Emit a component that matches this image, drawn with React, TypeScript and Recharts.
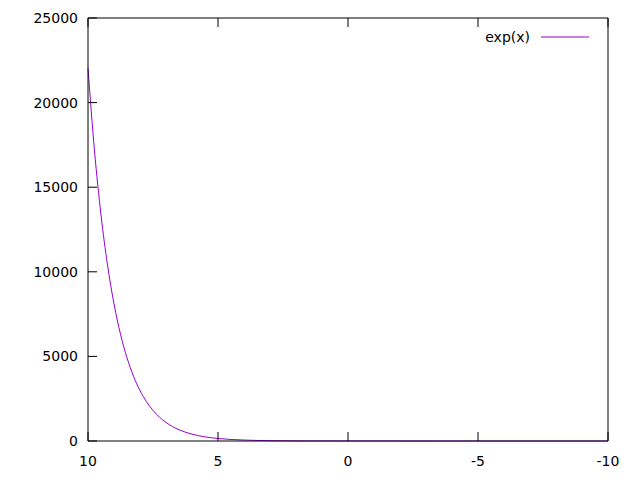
import React from 'react';
import { LineChart, Line, XAxis, YAxis } from 'recharts';

// x samples and the matching y values
const xs = [10, 9.75, 9.5, 9.25, 9, 8.75, 8.5, 8.25, 8, 7.75, 7.5, 7.25, 7, 6.75, 6.5, 6.25, 6, 5.5, 5, 4.5, 4, 3, 2, 1, 0, -5, -10];
const ys = [22026, 17154, 13360, 10405, 8103, 6311, 4915, 3828, 2981, 2322, 1808, 1408, 1097, 854, 665, 518, 403, 245, 148, 90, 55, 20, 7, 3, 1, 0, 0];
const xTicks = [10, 5, 0, -5, -10];
const yTicks = [0, 5000, 10000, 15000, 20000, 25000];
const seriesName = 'exp(x)';

const data = xs.map((x, i) => ({ x, y: ys[i] }));

const FONT = 'DejaVu Sans, sans-serif';
const COLOR = '#9400d3';
const TICK = 9;
const FS = 14;

function BottomTick({ x, y, payload }: any) {
  return (
    <g>
      <line x1={x} y1={y} x2={x} y2={y - TICK} stroke="#000" />
      <text x={x} y={y + 20} textAnchor="middle" dominantBaseline="central" fontSize={FS} fontFamily={FONT} fill="#000">
        {payload.value}
      </text>
    </g>
  );
}

function TopTick({ x, y }: any) {
  return <line x1={x} y1={y} x2={x} y2={y + TICK} stroke="#000" />;
}

function LeftTick({ x, y, payload }: any) {
  return (
    <g>
      <line x1={x} y1={y} x2={x + TICK} y2={y} stroke="#000" />
      <text x={x - 10} y={y} textAnchor="end" dominantBaseline="central" fontSize={FS} fontFamily={FONT} fill="#000">
        {payload.value}
      </text>
    </g>
  );
}

function RightTick({ x, y }: any) {
  return <line x1={x} y1={y} x2={x - TICK} y2={y} stroke="#000" />;
}

export default function App() {
  return (
    <div style={{ position: 'absolute', left: 0, top: 0, width: 640, height: 480, background: '#fff' }}>
      <LineChart width={640} height={480} data={data} margin={{ top: 17, right: 31, bottom: 0, left: 0 }}>
        <XAxis
          xAxisId="b"
          dataKey="x"
          type="number"
          domain={[-10, 10]}
          reversed
          ticks={xTicks}
          height={39}
          tickSize={0}
          tickMargin={0}
          tickLine={false}
          axisLine={{ stroke: '#000' }}
          tick={<BottomTick />}
          interval={0}
        />
        <XAxis
          xAxisId="t"
          orientation="top"
          dataKey="x"
          type="number"
          domain={[-10, 10]}
          reversed
          ticks={xTicks}
          height={1}
          tickSize={0}
          tickMargin={0}
          tickLine={false}
          axisLine={{ stroke: '#000' }}
          tick={<TopTick />}
          interval={0}
        />
        <YAxis
          yAxisId="l"
          type="number"
          domain={[0, 25000]}
          ticks={yTicks}
          width={88}
          tickSize={0}
          tickMargin={0}
          tickLine={false}
          axisLine={{ stroke: '#000' }}
          tick={<LeftTick />}
          interval={0}
        />
        <YAxis
          yAxisId="r"
          orientation="right"
          type="number"
          domain={[0, 25000]}
          ticks={yTicks}
          width={1}
          tickSize={0}
          tickMargin={0}
          tickLine={false}
          axisLine={{ stroke: '#000' }}
          tick={<RightTick />}
          interval={0}
        />
        <Line
          xAxisId="b"
          yAxisId="l"
          dataKey="y"
          name={seriesName}
          type="monotone"
          stroke={COLOR}
          strokeWidth={1}
          dot={false}
          isAnimationActive={false}
        />
      </LineChart>
      <svg width={640} height={60} style={{ position: 'absolute', left: 0, top: 0, pointerEvents: 'none' }}>
        <text x={530} y={37} textAnchor="end" dominantBaseline="central" fontSize={FS} fontFamily={FONT} fill="#000">
          {seriesName}
        </text>
        <line x1={541} y1={37} x2={589} y2={37} stroke={COLOR} />
      </svg>
    </div>
  );
}
